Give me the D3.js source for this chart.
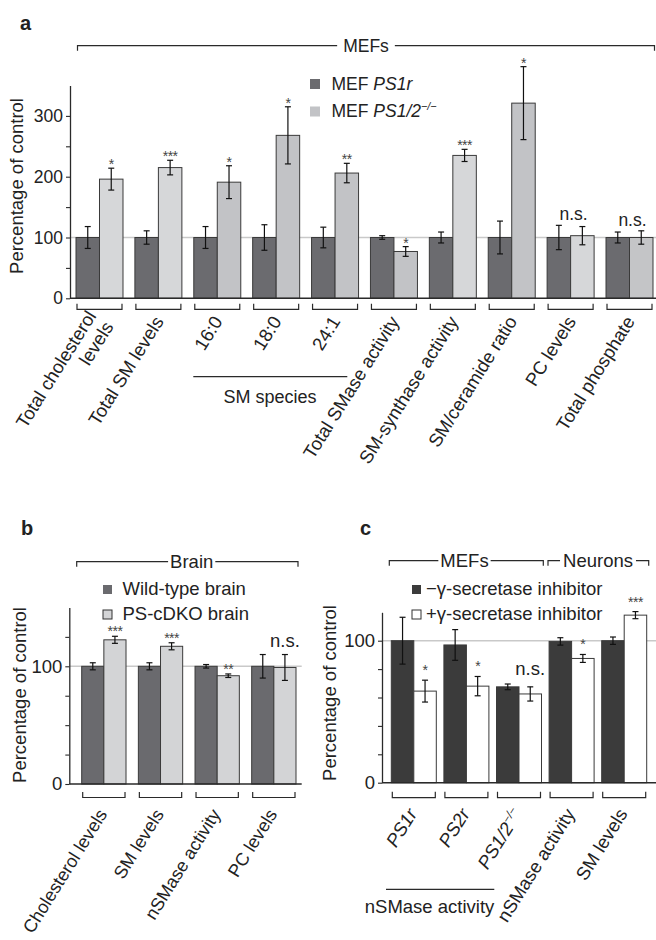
<!DOCTYPE html>
<html><head><meta charset="utf-8">
<script src="https://cdn.jsdelivr.net/npm/d3@7"></script>
<style>
body{margin:0;background:#fff}
svg{display:block}
text{font-family:"Liberation Sans",Arial,Helvetica,sans-serif;fill:#222}
</style>
</head><body>
<svg id="chart" width="656" height="940"></svg>
<script>
// ---------- Panel a data ----------
const aCategories = ["Total cholesterol\nlevels", "Total SM levels", "16:0", "18:0", "24:1",
  "Total SMase activity", "SM-synthase activity", "SM/ceramide ratio", "PC levels", "Total phosphate"];
const aPS1r    = [100, 100, 100, 100, 100, 100, 100, 100, 100, 100];
const aPS1rErr = [18, 11, 18, 21, 17, 3, 9, 27, 20, 9];
const aPS12    = [196, 215, 191, 268, 206, 77, 235, 321, 103, 100];
const aPS12Err = [18, 12, 27, 47, 16, 8, 10, 60, 15, 11];
const aSig     = ["*", "***", "*", "*", "**", "*", "***", "*", "n.s.", "n.s."];
const aSeries  = ["MEF PS1r", "MEF PS1/2−/−"];
const aTicks   = [0, 50, 100, 150, 200, 250, 300];
const aTickLabels = [0, 100, 200, 300];

// ---------- Panel b data ----------
const bCategories = ["Cholesterol levels", "SM levels", "nSMase activity", "PC levels"];
const bWT     = [100, 100, 100, 100];
const bWTErr  = [3, 3, 1.5, 10];
const bKO     = [122.5, 117, 92, 99];
const bKOErr  = [3, 3, 1.5, 11];
const bSig    = ["***", "***", "**", "n.s."];
const bSeries = ["Wild-type brain", "PS-cDKO brain"];
const bTicks  = [0, 25, 50, 75, 100, 125];
const bTickLabels = [0, 100];

// ---------- Panel c data ----------
const cCategories = ["PS1r", "PS2r", "PS1/2−/−", "nSMase activity", "SM levels"];
const cMinus    = [100, 97, 67.5, 99.5, 100];
const cMinusErr = [16.5, 10.8, 2, 2.6, 2.6];
const cPlus     = [64.5, 68, 62.5, 87.5, 118];
const cPlusErr  = [7.7, 6.8, 5, 2.8, 2.5];
const cSig      = ["*", "*", "n.s.", "*", "***"];
const cSeries   = ["−γ-secretase inhibitor", "+γ-secretase inhibitor"];
const cTicks    = [0, 20, 40, 60, 80, 100];
const cTickLabels = [0, 100];

// ---------- styles ----------
const INK = "#2a2a2a";
const aLightShade = ["#d6d7d9", "#d6d7d9", "#c2c3c6", "#c2c3c6", "#c2c3c6", "#c2c3c6", "#d6d7d9", "#c2c3c6", "#d6d7d9", "#c4c5c7"];
const ANGLE = -58;

const svg = d3.select("#chart");

// rich text: italic gene names and superscript −/−
function rich(sel, str, fs) {
  const parts = str.split(/(PS\d[\w\/]*|−\/−)/).filter(s => s.length);
  parts.forEach(p => {
    if (p === "−/−") {
      sel.append("tspan").attr("font-style", "italic").attr("font-size", fs * 0.62)
        .attr("dy", -fs * 0.38).text(p);
    } else if (/^PS\d/.test(p)) {
      sel.append("tspan").attr("font-style", "italic").text(p);
    } else {
      sel.append("tspan").text(p);
    }
  });
}

function drawPanel(p) {
  const g = svg.append("g");
  const x = d3.scaleBand().domain(p.cats).range([p.bandStart, p.bandEnd])
    .paddingInner(p.padInner).paddingOuter(0);
  const sub = d3.scaleBand().domain([0, 1]).range([0, x.bandwidth()]);
  const y = d3.scaleLinear().domain(p.yDomain).range(p.yRange);
  const y0 = y(0);

  // reference line at 100
  g.append("line").attr("x1", p.axisX).attr("x2", p.refEnd)
    .attr("y1", y(100)).attr("y2", y(100))
    .attr("stroke", "#c9c9c9").attr("stroke-width", 1.6);

  const rows = p.cats.map((c, i) => ({c, i,
    vals: [{v: p.v1[i], e: p.e1[i], k: 0}, {v: p.v2[i], e: p.e2[i], k: 1}]}));

  const grp = g.selectAll(".grp").data(rows).join("g")
    .attr("transform", d => `translate(${x(d.c)},0)`);

  grp.selectAll("rect").data(d => d.vals.map(v => ({...v, i: d.i}))).join("rect")
    .attr("x", d => sub(d.k)).attr("width", sub.bandwidth())
    .attr("y", d => y(d.v)).attr("height", d => y0 - y(d.v))
    .attr("fill", d => d.k === 0 ? p.c1 : (Array.isArray(p.c2) ? p.c2[d.i] : p.c2))
    .attr("stroke", "#3a3a3a").attr("stroke-width", 1);

  // error bars
  const eb = grp.selectAll(".eb").data(d => d.vals).join("g")
    .attr("transform", d => `translate(${sub(d.k) + sub.bandwidth() / 2},0)`)
    .attr("stroke", "#111").attr("stroke-width", 1.2);
  eb.append("line").attr("y1", d => y(d.v + d.e)).attr("y2", d => y(d.v - d.e));
  eb.append("line").attr("x1", -3).attr("x2", 3).attr("y1", d => y(d.v + d.e)).attr("y2", d => y(d.v + d.e));
  eb.append("line").attr("x1", -3).attr("x2", 3).attr("y1", d => y(d.v - d.e)).attr("y2", d => y(d.v - d.e));

  // significance marks
  grp.each(function(d) {
    const s = p.sig[d.i];
    const sel = d3.select(this);
    if (s === "n.s.") {
      const top = Math.max(d.vals[0].v + d.vals[0].e, d.vals[1].v + d.vals[1].e);
      const cxp = p.nsOnBar ? sub(1) + sub.bandwidth() / 2 : x.bandwidth() / 2 + 3;
      sel.append("text").attr("x", cxp).attr("y", y(top) - p.nsGap)
        .attr("text-anchor", "middle").attr("font-size", p.fs).text(s);
    } else {
      const v = d.vals[1];
      sel.append("text").attr("x", sub(1) + sub.bandwidth() / 2)
        .attr("y", y(v.v + v.e) - p.starGap)
        .attr("text-anchor", "middle").attr("font-size", 14).style("fill", "#444")
        .attr("letter-spacing", -0.5).text(s);
    }
  });

  // y axis
  const ax = g.append("g").attr("transform", `translate(${p.axisX},0)`)
    .call(d3.axisLeft(y).tickValues(p.ticks).tickSizeInner(4).tickSizeOuter(0).tickPadding(3)
      .tickFormat(d => p.tickLabels.includes(d) ? d : ""));
  ax.select(".domain").attr("stroke", INK).attr("stroke-width", 1.3);
  ax.selectAll(".tick line").attr("stroke", INK).attr("stroke-width", 1.1);
  ax.selectAll(".tick text").attr("font-size", p.fs).attr("font-family", null).style("fill", "#222");

  // x axis line
  g.append("line").attr("x1", p.axisX).attr("x2", p.xAxisEnd).attr("y1", y0).attr("y2", y0)
    .attr("stroke", INK).attr("stroke-width", 1.4);

  // brackets under groups
  g.selectAll(".br").data(p.cats).join("path")
    .attr("d", c => `M${x(c) + 1},${y0 + p.brTop}V${y0 + p.brBot}H${x(c) + x.bandwidth() - 1}V${y0 + p.brTop}`)
    .attr("fill", "none").attr("stroke", INK).attr("stroke-width", 1.2);

  // x labels
  const rad = -ANGLE * Math.PI / 180;
  p.cats.forEach(c => {
    const lines = c.split("\n");
    const cx = x(c) + x.bandwidth() / 2 + p.lblDx;
    const cy = y0 + p.lblDy;
    lines.forEach((ln, li) => {
      const off = (li - (lines.length - 1) / 2) * p.lblFs * 1.1;
      const t = g.append("text").attr("text-anchor", "end").attr("font-size", p.lblFs)
        .attr("transform", `translate(${cx + off * Math.sin(rad)},${cy + off * Math.cos(rad)}) rotate(${ANGLE})`);
      rich(t, ln, p.lblFs);
    });
  });

  // y title
  g.append("text").attr("transform", `translate(${p.titleX},${p.titleY}) rotate(-90)`)
    .attr("text-anchor", "middle").attr("font-size", p.titleFs).text("Percentage of control");

  // legend
  p.series.forEach((s, k) => {
    const ly = p.legY + k * p.legStep;
    g.append("rect").attr("x", p.legX).attr("y", ly - p.legSq - 0.5).attr("width", p.legSq).attr("height", p.legSq)
      .attr("fill", k === 0 ? p.legC1 : p.legC2)
      .attr("stroke", p.legStroke[k] ? "#333" : "none").attr("stroke-width", 1);
    const t = g.append("text").attr("x", p.legX + p.legTx).attr("y", ly).attr("font-size", p.legFs);
    rich(t, s, p.legFs);
  });

  // header brackets
  p.headers.forEach(h => {
    const t = g.append("text").attr("x", h.cx).attr("y", h.y + p.legFs * 0.36)
      .attr("text-anchor", "middle").attr("font-size", p.legFs).text(h.text);
    const w = t.node().getComputedTextLength();
    g.append("path").attr("fill", "none").attr("stroke", INK).attr("stroke-width", 1.2)
      .attr("d", `M${h.x0},${h.y + 5}V${h.y}H${h.cx - w / 2 - h.gap}M${h.cx + w / 2 + h.gap},${h.y}H${h.x1}V${h.y + 5}`);
  });

  // panel letter
  svg.append("text").attr("x", p.letterX).attr("y", p.letterY).attr("font-size", 20)
    .attr("font-weight", "bold").text(p.letter);
  return {x, y, g};
}

// ---------- Panel a ----------
const A = drawPanel({
  cats: aCategories, v1: aPS1r, e1: aPS1rErr, v2: aPS12, e2: aPS12Err, sig: aSig,
  bandStart: 76, bandEnd: 653, padInner: 0.202,
  yDomain: [0, 350], yRange: [298.3, 298.3 - 3.5 * 60.8],
  ticks: aTicks, tickLabels: aTickLabels,
  axisX: 70, xAxisEnd: 656, refEnd: 656,
  c1: "#6b6b6f", c2: aLightShade,
  fs: 17.5, lblFs: 18.5, titleFs: 18.5, titleX: 23, titleY: 186,
  brTop: 5.5, brBot: 11, lblDx: 6, lblDy: 23,
  nsGap: 5, nsOnBar: false, starGap: -1,
  series: aSeries, legX: 310, legY: 89.5, legStep: 27.5, legSq: 10, legTx: 21.5, legFs: 17.5,
  legC1: "#6b6b6f", legC2: "#c2c3c6", legStroke: [false, false],
  headers: [{text: "MEFs", cx: 366, y: 45.7, x0: 77.5, x1: 654.5, gap: 6}],
  letter: "a", letterX: 20, letterY: 30
});
// SM species grouping line
A.g.append("line").attr("x1", 193.3).attr("x2", 347.3).attr("y1", 376.6).attr("y2", 376.6)
  .attr("stroke", INK).attr("stroke-width", 1.2);
A.g.append("text").attr("x", 270).attr("y", 403).attr("text-anchor", "middle")
  .attr("font-size", 18).text("SM species");

// ---------- Panel b ----------
drawPanel({
  cats: bCategories, v1: bWT, e1: bWTErr, v2: bKO, e2: bKOErr, sig: bSig,
  bandStart: 81.7, bandEnd: 296, padInner: 0.218,
  yDomain: [0, 150], yRange: [784, 784 - 1.5 * 117.7],
  ticks: bTicks, tickLabels: bTickLabels,
  axisX: 69.3, xAxisEnd: 301.7, refEnd: 301.7,
  c1: "#6a6a6e", c2: "#d3d4d6",
  fs: 18.5, lblFs: 18, titleFs: 18.5, titleX: 26, titleY: 695,
  brTop: 8, brBot: 13.5, lblDx: 4, lblDy: 30,
  nsGap: 8, nsOnBar: true, starGap: 0,
  series: bSeries, legX: 103, legY: 594.5, legStep: 25, legSq: 9, legTx: 19.5, legFs: 18.5,
  legC1: "#6a6a6e", legC2: "#d3d4d6", legStroke: [false, true],
  headers: [{text: "Brain", cx: 191.7, y: 561.7, x0: 76.7, x1: 298, gap: 2}],
  letter: "b", letterX: 21, letterY: 535
});

// ---------- Panel c ----------
const C = drawPanel({
  cats: cCategories, v1: cMinus, e1: cMinusErr, v2: cPlus, e2: cPlusErr, sig: cSig,
  bandStart: 391.3, bandEnd: 646.7, padInner: 0.1445,
  yDomain: [0, 120], yRange: [782.7, 782.7 - 1.2 * 142],
  ticks: cTicks, tickLabels: cTickLabels,
  axisX: 382, xAxisEnd: 656, refEnd: 656,
  c1: "#3b3b3b", c2: "#ffffff",
  fs: 18.5, lblFs: 18.5, titleFs: 18.5, titleX: 336, titleY: 693,
  brTop: 9, brBot: 15, lblDx: 4, lblDy: 31,
  nsGap: 9, nsOnBar: true, starGap: 5,
  series: cSeries, legX: 412, legY: 594.5, legStep: 25, legSq: 9, legTx: 14, legFs: 18.5,
  legC1: "#3b3b3b", legC2: "#ffffff", legStroke: [false, true],
  headers: [
    {text: "MEFs", cx: 464.5, y: 560.7, x0: 389.3, x1: 543.3, gap: 2},
    {text: "Neurons", cx: 598, y: 560.7, x0: 548, x1: 648.7, gap: 3}
  ],
  letter: "c", letterX: 360, letterY: 535
});
C.g.append("line").attr("x1", 386).attr("x2", 494.3).attr("y1", 889.3).attr("y2", 889.3)
  .attr("stroke", INK).attr("stroke-width", 1.2);
C.g.append("text").attr("x", 494.3).attr("y", 913.3).attr("text-anchor", "end")
  .attr("font-size", 18.5).text("nSMase activity");
</script>
</body></html>
